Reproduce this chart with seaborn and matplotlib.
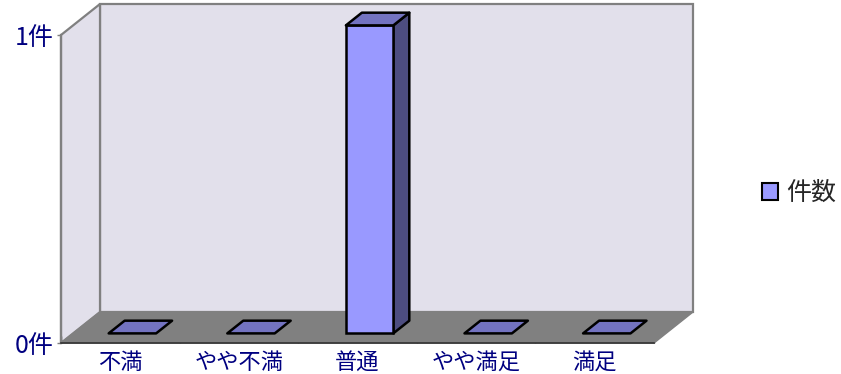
import matplotlib
matplotlib.use("Agg")
import matplotlib.pyplot as plt
from matplotlib.patches import Polygon, Patch
from matplotlib.ticker import FixedLocator
import seaborn as sns
import pandas as pd

# ---- data ----
categories = ["不満", "やや不満", "普通", "やや満足", "満足"]
counts = [0, 0, 1, 0, 0]
series_name = "件数"
y_ticks = [0, 1]
y_tick_labels = ["0件", "1件"]

sns.set_style("white")
plt.rcParams["font.family"] = ["Noto Sans CJK JP", "DejaVu Sans"]

W, H = 841, 374
fig = plt.figure(figsize=(W / 100, H / 100), dpi=100)
# front plane of the 3D box in pixels
L, R, B, T = 61, 654, 343, 35
ax = fig.add_axes([L / W, (H - B) / H, (R - L) / W, (B - T) / H])
ax.patch.set_alpha(0)

df = pd.DataFrame({"cat": categories, "val": counts})
sns.barplot(data=df, x="cat", y="val", width=0.4, color="#9999FF",
            edgecolor="black", linewidth=1.8, saturation=1, ax=ax, zorder=5)
ax.set_xlim(-0.5, len(categories) - 0.5)
ax.set_ylim(0, 1)

# depth of the box (data units)
DX = 39 / ((R - L) / len(categories))
DY = 31 / (B - T)
f0, f1 = 0.31, 0.72

wall = "#E2E0EB"
edge = "#808080"
x_lo, x_hi = -0.5, len(categories) - 0.5
# back wall
ax.add_patch(Polygon([(x_lo + DX, DY), (x_hi + DX, DY), (x_hi + DX, 1 + DY), (x_lo + DX, 1 + DY)],
                     closed=True, facecolor=wall, edgecolor=edge, linewidth=1.6, clip_on=False, zorder=0))
# left wall
ax.add_patch(Polygon([(x_lo, 0), (x_lo, 1), (x_lo + DX, 1 + DY), (x_lo + DX, DY)],
                     closed=True, facecolor=wall, edgecolor=edge, linewidth=1.6, clip_on=False, zorder=0.5))
# floor
ax.add_patch(Polygon([(x_lo, 0), (x_hi, 0), (x_hi + DX, DY), (x_lo + DX, DY)],
                     closed=True, facecolor="#808080", edgecolor="#808080", linewidth=1.0, clip_on=False, zorder=1))

# bars: move front faces into depth and add side / top faces
ddx, ddy = (f1 - f0) * DX, (f1 - f0) * DY
bars = [q for q in ax.patches if q.get_zorder() == 5]
for p in bars:
    x0 = p.get_x() + f0 * DX
    p.set_x(x0)
    p.set_y(f0 * DY)
    y0 = p.get_y()
    w, h = p.get_width(), p.get_height()
    p.set_clip_on(False)
    if h > 0:
        ax.add_patch(Polygon([(x0 + w, y0), (x0 + w, y0 + h), (x0 + w + ddx, y0 + h + ddy), (x0 + w + ddx, y0 + ddy)],
                             closed=True, facecolor="#4D4D80", edgecolor="black", linewidth=1.8,
                             joinstyle="round", clip_on=False, zorder=4))
    else:
        p.set_visible(False)
    ax.add_patch(Polygon([(x0, y0 + h), (x0 + w, y0 + h), (x0 + w + ddx, y0 + h + ddy), (x0 + ddx, y0 + h + ddy)],
                         closed=True, facecolor="#7373C0", edgecolor="black", linewidth=1.8,
                         joinstyle="round", clip_on=False, zorder=6))

# axes styling
for s in ["top", "right"]:
    ax.spines[s].set_visible(False)
ax.spines["left"].set_color(edge)
ax.spines["left"].set_linewidth(1.6)
ax.spines["left"].set_zorder(2)
ax.spines["bottom"].set_color("#333333")
ax.spines["bottom"].set_linewidth(1.2)
ax.spines["bottom"].set_zorder(2)

ax.set_xlabel("")
ax.set_ylabel("")
ax.set_yticks(y_ticks)
ax.set_yticklabels(y_tick_labels)
ax.tick_params(axis="y", left=True, length=3, width=1, color=edge, labelsize=18,
               labelcolor="#000080", pad=2)
ax.tick_params(axis="x", bottom=False, labelsize=16, labelcolor="#000080", pad=2)
ax.xaxis.set_minor_locator(FixedLocator([i - 0.5 for i in range(len(categories) + 1)]))
ax.tick_params(axis="x", which="minor", bottom=True, direction="in", length=5, width=1, color="#333333")

fig.legend(handles=[Patch(facecolor="#9999FF", edgecolor="black", linewidth=1.5, label=series_name)],
           loc="center left", bbox_to_anchor=(762 / W, 1 - 193 / H), frameon=False, borderpad=0,
           borderaxespad=0, fontsize=18, handlelength=0.65, handleheight=0.65, handletextpad=0.3)

fig.savefig("out.png", dpi=100)
